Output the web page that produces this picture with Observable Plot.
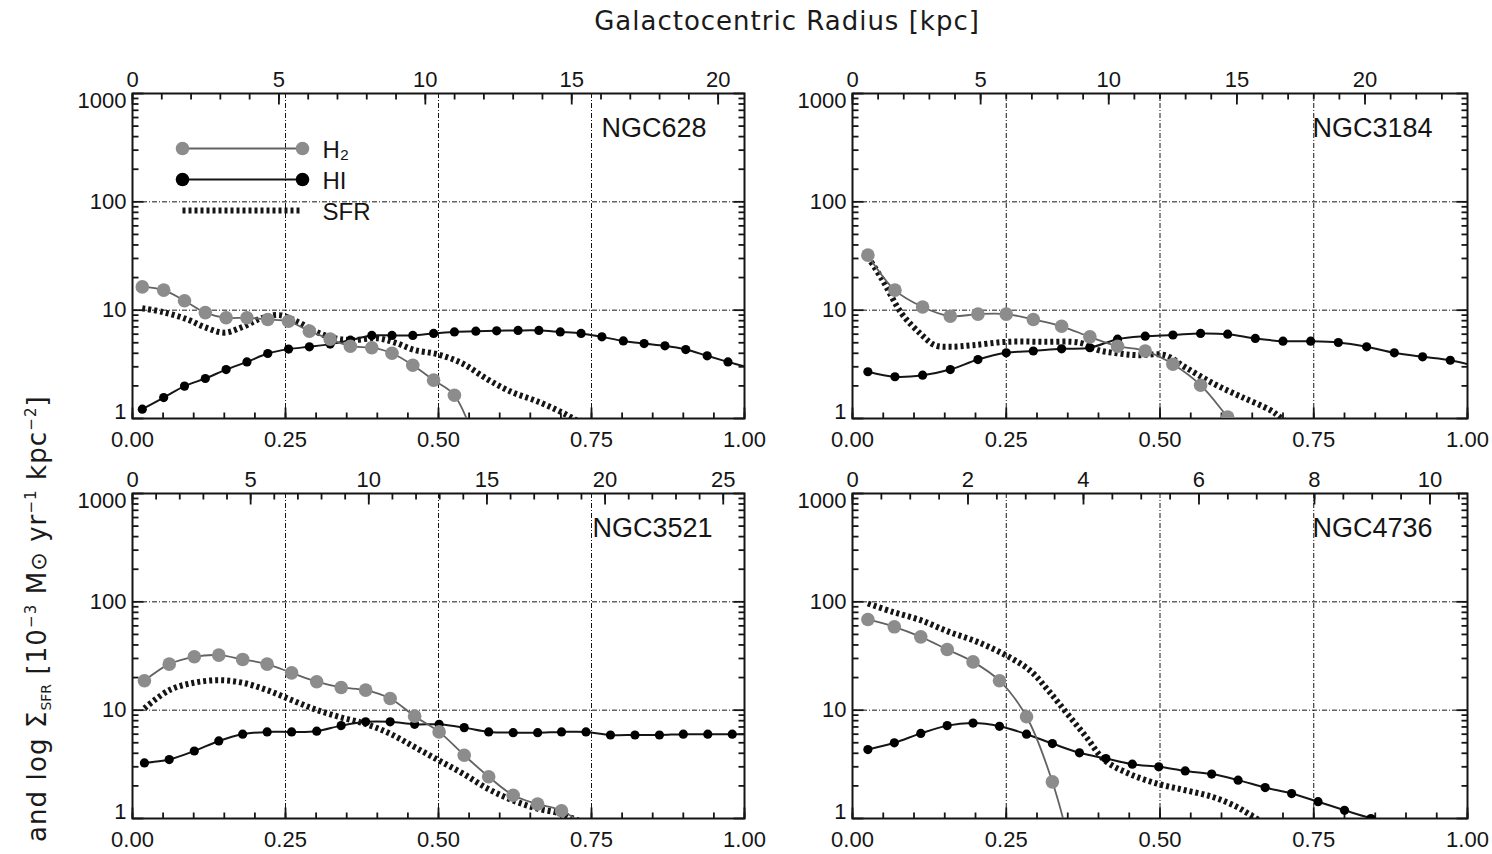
<!DOCTYPE html>
<html><head><meta charset="utf-8">
<script src="https://cdn.jsdelivr.net/npm/d3@7"></script>
<script src="https://cdn.jsdelivr.net/npm/@observablehq/plot@0.6"></script>
<style>
html,body{margin:0;padding:0;background:#fff;}
#fig{position:relative;width:1492px;height:854px;overflow:hidden;font-family:"DejaVu Sans";color:#1a1a1a;background:#fff}
#fig svg{position:absolute;}
#title{position:absolute;left:0;width:1574px;top:5px;text-align:center;font-size:26px;letter-spacing:1px;line-height:32px}
#ylab{position:absolute;left:15px;top:842px;transform-origin:0 0;transform:rotate(-90deg);white-space:nowrap;font-size:26px;line-height:32px;letter-spacing:1.1px}
#ylab sub{font-size:14px;vertical-align:-5px;letter-spacing:0}
#ylab sup{font-size:15px;vertical-align:10px}
</style>
</head><body>
<div id="fig">
  <div id="title">Galactocentric Radius [kpc]</div>
  <div id="ylab">and log Σ<sub>SFR</sub> [10<sup>−3</sup> M<span style="font-size:22px">⊙</span> yr<sup>−1</sup> kpc<sup>−2</sup>]</div>
</div>
<script>
// ---------- data (normalized radius r/R25, surface densities) ----------
const names = ["NGC628", "NGC3184", "NGC3521", "NGC4736"];
const rmaxKpc = [20.9, 24.0, 25.9, 10.65];      // top-axis kpc at r = 1
const kpcMajorStep = [5, 5, 5, 2];
const kpcMinorStep = [1, 1, 1, 0.5];

const ngc628_r = [0.016,0.051,0.085,0.119,0.153,0.187,0.221,0.255,0.289,0.323,0.356,0.391,0.424,0.458,0.492,0.526,0.561,0.595,0.63,0.664,0.699,0.733,0.767,0.802,0.836,0.87,0.904,0.939,0.973,1.007];
const ngc628_h2 = [16.4,15.3,12.2,9.5,8.5,8.5,8.2,7.9,6.4,5.4,4.65,4.5,4.0,3.1,2.26,1.64,0.6];
const ngc628_hi = [1.22,1.56,1.99,2.34,2.83,3.33,3.98,4.37,4.59,4.86,5.28,5.84,5.84,5.84,6.1,6.3,6.4,6.45,6.5,6.5,6.3,6.1,5.67,5.2,4.92,4.69,4.33,3.79,3.33,2.95];
const ngc628_sfr_r = [0.016,0.05,0.09,0.12,0.15,0.18,0.21,0.24,0.27,0.30,0.33,0.36,0.40,0.43,0.46,0.50,0.54,0.58,0.62,0.66,0.70,0.72,0.74];
const ngc628_sfr = [10.4,9.6,8.2,6.9,6.2,7.0,8.4,9.0,7.8,6.3,5.5,5.3,5.5,5.0,4.3,3.9,3.2,2.3,1.75,1.45,1.15,1.0,0.85];

const ngc3184_r = [0.025,0.069,0.114,0.159,0.204,0.25,0.294,0.34,0.386,0.431,0.476,0.521,0.566,0.61,0.655,0.70,0.745,0.79,0.836,0.881,0.927,0.972,1.017];
const ngc3184_h2 = [32.2,15.3,10.7,8.8,9.2,9.2,8.2,7.1,5.67,4.65,4.2,3.17,2.03,1.03,0.5];
const ngc3184_hi = [2.7,2.43,2.51,2.83,3.5,4.04,4.2,4.4,4.5,5.4,5.75,5.9,6.1,6.0,5.48,5.17,5.17,5.03,4.59,4.04,3.71,3.45,3.0];
const ngc3184_sfr_r = [0.025,0.049,0.08,0.11,0.134,0.16,0.196,0.25,0.31,0.37,0.40,0.43,0.463,0.508,0.54,0.587,0.633,0.68,0.695,0.72];
const ngc3184_sfr = [31,18.9,9.3,6.1,4.75,4.6,4.75,5.1,5.1,5.0,4.27,4.0,3.84,3.84,3.0,2.1,1.58,1.19,1.03,0.8];

const ngc3521_r = [0.0195,0.06,0.101,0.141,0.18,0.22,0.26,0.301,0.341,0.381,0.421,0.461,0.501,0.542,0.582,0.622,0.662,0.701,0.741,0.781,0.821,0.861,0.90,0.94,0.98,1.02];
const ngc3521_h2 = [18.7,26.6,31.1,32.2,29.4,26.6,22.1,18.3,16.2,15.3,12.8,8.8,6.3,3.84,2.43,1.64,1.36,1.18,0.85];
const ngc3521_hi = [3.26,3.5,4.2,5.2,6.0,6.3,6.3,6.4,7.2,7.8,7.8,7.4,7.4,6.9,6.3,6.2,6.2,6.3,6.3,5.9,5.9,5.9,6.0,6.0,6.0,6.0];
const ngc3521_sfr_r = [0.0195,0.06,0.1,0.141,0.18,0.22,0.26,0.30,0.34,0.38,0.42,0.46,0.50,0.54,0.58,0.62,0.66,0.70,0.72,0.74];
const ngc3521_sfr = [10.4,15.3,17.9,18.9,17.9,15.3,12.4,10.1,8.6,7.5,6.1,4.6,3.45,2.6,1.89,1.48,1.24,1.11,1.0,0.9];

const ngc4736_r = [0.025,0.068,0.111,0.154,0.196,0.239,0.283,0.325,0.369,0.412,0.455,0.498,0.541,0.584,0.627,0.671,0.714,0.757,0.80,0.843,0.886];
const ngc4736_h2 = [68.7,58.8,47.5,36.3,27.9,18.7,8.7,2.18,0.25];
const ngc4736_hi = [4.33,5.0,6.1,7.2,7.6,7.1,6.0,4.92,4.04,3.58,3.17,3.0,2.75,2.57,2.26,1.93,1.70,1.43,1.19,1.0,0.8];
const ngc4736_sfr_r = [0.025,0.065,0.111,0.157,0.203,0.249,0.288,0.318,0.349,0.38,0.41,0.449,0.495,0.54,0.586,0.625,0.654,0.68];
const ngc4736_sfr = [96.5,80.9,67.7,52.8,42.7,32.2,23.4,15.3,9.3,5.67,3.45,2.6,2.1,1.83,1.58,1.28,1.02,0.85];

const legendItems = ["H₂", "HI", "SFR"];
const xTickLabels = [0, 0.25, 0.5, 0.75, 1];
const yTickLabels = [1, 10, 100, 1000];
const gridX = [0.25, 0.5, 0.75];
const gridY = [10, 100];

// ---------- layout ----------
const series = [
  {r: ngc628_r, h2: ngc628_h2, hi: ngc628_hi, sr: ngc628_sfr_r, sfr: ngc628_sfr},
  {r: ngc3184_r, h2: ngc3184_h2, hi: ngc3184_hi, sr: ngc3184_sfr_r, sfr: ngc3184_sfr},
  {r: ngc3521_r, h2: ngc3521_h2, hi: ngc3521_hi, sr: ngc3521_sfr_r, sfr: ngc3521_sfr},
  {r: ngc4736_r, h2: ngc4736_h2, hi: ngc4736_hi, sr: ngc4736_sfr_r, sfr: ngc4736_sfr}
];
const layout = [
  {fx: 132, fy: 93, fw: 612, ndx: -38},
  {fx: 852, fy: 93, fw: 615, ndx: -35},
  {fx: 132, fy: 493, fw: 612, ndx: -32},
  {fx: 852, fy: 493, fw: 615, ndx: -35}
];
const FH = 325, ML = 80, MR = 12, MT = 45, MB = 45;
const FONT = "Liberation Sans, Arial, sans-serif";
const ink = "#151515";
const gridStyle = {stroke: ink, strokeWidth: 1, strokeDasharray: "5,2,1,2"};
const MINOR = 6, MAJOR = 11;   // inward tick lengths, px

const fig = document.getElementById("fig");

names.forEach((name, i) => {
  const s = series[i], L = layout[i];
  const W = L.fw, rmax = rmaxKpc[i];
  const dec = FH / 3;                       // px per decade
  const up = px => 10 ** (px / dec);
  const h2 = s.h2.map((v, j) => ({r: s.r[j], v}));
  const hi = s.hi.map((v, j) => ({r: s.r[j], v}));
  const sfr = s.sfr.map((v, j) => ({r: s.sr[j], v}));
  const xMinor = d3.range(0, 1.0001, 0.05);
  const kMajor = d3.range(0, rmax, kpcMajorStep[i]);
  const kMinor = d3.range(0, rmax, kpcMinorStep[i]);
  const yMinor = [1, 10, 100].flatMap(d => d3.range(2, 10).map(k => k * d));
  const ticks = [
    ...xMinor.map(x => ({x1: x, x2: x, y1: 1, y2: up(MINOR)})),
    ...xTickLabels.map(x => ({x1: x, x2: x, y1: 1, y2: up(MAJOR)})),
    ...kMinor.map(k => ({x1: k / rmax, x2: k / rmax, y1: 1000, y2: 1000 / up(MINOR)})),
    ...kMajor.map(k => ({x1: k / rmax, x2: k / rmax, y1: 1000, y2: 1000 / up(MAJOR)})),
    ...yMinor.map(y => ({x1: 0, x2: MINOR / W, y1: y, y2: y})),
    ...yTickLabels.map(y => ({x1: 0, x2: MAJOR / W, y1: y, y2: y})),
    ...yMinor.map(y => ({x1: 1 - MINOR / W, x2: 1, y1: y, y2: y})),
    ...yTickLabels.map(y => ({x1: 1 - MAJOR / W, x2: 1, y1: y, y2: y}))
  ];
  const chart = Plot.plot({
    width: ML + W + MR, height: MT + FH + MB,
    marginLeft: ML, marginRight: MR, marginTop: MT, marginBottom: MB,
    x: {domain: [0, 1]},
    y: {type: "log", domain: [1, 1000]},
    style: {fontFamily: FONT, fontSize: "22px", color: ink, background: "transparent", maxWidth: "none", overflow: "visible"},
    marks: [
      Plot.ruleX(gridX, {x: d => d, ...gridStyle}),
      Plot.ruleY(gridY, {y: d => d, ...gridStyle}),
      Plot.link(ticks, {x1: "x1", x2: "x2", y1: "y1", y2: "y2", stroke: ink, strokeWidth: 1.8, strokeLinecap: "butt"}),
      Plot.frame({stroke: ink, strokeWidth: 2}),
      Plot.axisX({anchor: "bottom", ticks: xTickLabels, tickFormat: d3.format(".2f"), tickSize: 0, tickPadding: 13, fontSize: 22, label: null}),
      Plot.axisX({anchor: "top", ticks: kMajor.map(k => k / rmax), tickFormat: d => String(Math.round(d * rmax)), tickSize: 0, tickPadding: 7, fontSize: 22, label: null}),
      Plot.axisY({anchor: "left", ticks: gridY, tickFormat: d3.format("d"), tickSize: 0, tickPadding: 6, fontSize: 22, label: null}),
      Plot.axisY({anchor: "left", ticks: [1000], tickFormat: d3.format("d"), tickSize: 0, tickPadding: 6, dy: 7, fontSize: 22, label: null}),
      Plot.axisY({anchor: "left", ticks: [1], tickFormat: d3.format("d"), tickSize: 0, tickPadding: 6, dy: -7, fontSize: 22, label: null}),
      Plot.line(sfr, {x: "r", y: "v", stroke: ink, strokeWidth: 6, strokeDasharray: "3,3", strokeLinecap: "butt", curve: "catmull-rom", clip: true}),
      Plot.line(hi, {x: "r", y: "v", stroke: ink, strokeWidth: 2, curve: "catmull-rom", clip: true}),
      Plot.dot(hi, {x: "r", y: "v", r: 4.6, fill: "#000", clip: true}),
      Plot.line(h2, {x: "r", y: "v", stroke: "#626262", strokeWidth: 1.8, curve: "catmull-rom", clip: true}),
      Plot.dot(h2, {x: "r", y: "v", r: 6.8, fill: "#8c8c8c", clip: true}),
      Plot.text([name], {text: d => d, frameAnchor: "top-right", lineAnchor: "middle", dx: L.ndx, dy: 35, textAnchor: "end", fontSize: 27, fill: ink})
    ]
  });
  chart.style.left = (L.fx - ML) + "px";
  chart.style.top = (L.fy - MT) + "px";
  fig.appendChild(chart);
});

// ---------- legend (inside the top-left panel) ----------
const legend = Plot.plot({
  width: 240, height: 100,
  marginLeft: 12, marginRight: 108, marginTop: 18, marginBottom: 20,
  x: {domain: [0, 1], axis: null},
  y: {type: "point", domain: legendItems, padding: 0, axis: null},
  style: {fontFamily: FONT, fontSize: "24px", color: ink, background: "transparent", maxWidth: "none", overflow: "visible"},
  marks: [
    Plot.link([legendItems[0]], {x1: () => 0, x2: () => 1, y1: d => d, y2: d => d, stroke: "#626262", strokeWidth: 1.8}),
    Plot.dot([legendItems[0]], {x: () => 0, y: d => d, r: 6.8, fill: "#8c8c8c"}),
    Plot.dot([legendItems[0]], {x: () => 1, y: d => d, r: 6.8, fill: "#8c8c8c"}),
    Plot.link([legendItems[1]], {x1: () => 0, x2: () => 1, y1: d => d, y2: d => d, stroke: ink, strokeWidth: 2}),
    Plot.dot([legendItems[1]], {x: () => 0, y: d => d, r: 6.8, fill: "#000"}),
    Plot.dot([legendItems[1]], {x: () => 1, y: d => d, r: 6.8, fill: "#000"}),
    Plot.link([legendItems[2]], {x1: () => 0, x2: () => 1, y1: d => d, y2: d => d, stroke: ink, strokeWidth: 6, strokeDasharray: "3,3", strokeLinecap: "butt"}),
    Plot.text(legendItems, {x: () => 1, y: d => d, text: d => d, dx: 20, dy: 2, textAnchor: "start", fontSize: 24, fill: ink})
  ]
});
legend.style.left = "170px";
legend.style.top = "130px";
fig.appendChild(legend);
</script>
</body></html>
